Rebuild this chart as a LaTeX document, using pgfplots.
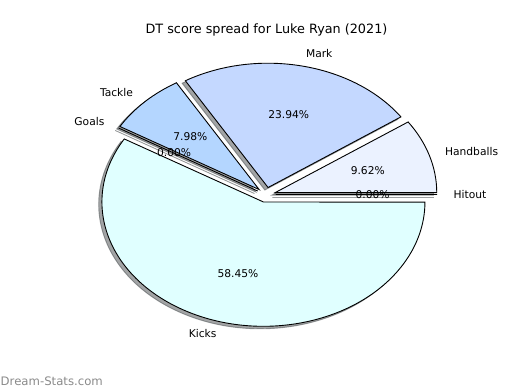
\documentclass[border=0pt]{standalone}
\usepackage{pgfplots}
\pgfplotsset{compat=1.18}
\usepackage{fontspec}
\setmainfont{DejaVu Sans}
\definecolor{cHit}{HTML}{EBF2FF}
\definecolor{cHand}{HTML}{EBF2FF}
\definecolor{cMark}{HTML}{C4D8FF}
\definecolor{cTack}{HTML}{B4D6FF}
\definecolor{cGoal}{HTML}{B4D6FF}
\definecolor{cKick}{HTML}{E0FFFF}
\definecolor{shadowc}{rgb}{0.27,0.29,0.30}
\definecolor{wm}{HTML}{8A8A8A}
% value (%) / label / colour, in counter-clockwise order from 0 degrees
\def\piedata{0.00/Hitout/cHit, 9.62/Handballs/cHand, 23.94/Mark/cMark, 7.98/Tackle/cTack, 0.00/Goals/cGoal, 58.45/Kicks/cKick}
\def\total{99.99}
\def\expl{0.06}
\begin{document}
\begin{tikzpicture}
\path (0,0) rectangle (520bp,390bp);
\begin{axis}[at={(266bp,195.2bp)}, anchor=origin, scale only axis,
  width=403.75bp, height=310.75bp,
  xmin=-1.25, xmax=1.25, ymin=-1.25, ymax=1.25,
  hide axis, clip=false]
% shadows
\xdef\cum{0}
\foreach \v/\n/\c in \piedata {
  \pgfmathsetmacro\aS{3.6/\total*100*\cum}
  \pgfmathsetmacro\aE{3.6/\total*100*(\cum+\v)}
  \pgfmathsetmacro\aM{(\aS+\aE)/2}
  \pgfmathsetmacro\ox{\expl*cos(\aM)-0.02}
  \pgfmathsetmacro\oy{\expl*sin(\aM)-0.02}
  \pgfmathsetmacro\sx{\ox+cos(\aS)}
  \pgfmathsetmacro\sy{\oy+sin(\aS)}
  \edef\tmp{\noexpand\filldraw[fill=shadowc,draw=shadowc,fill opacity=0.5,draw opacity=0.5,line width=0.9bp] (axis cs:\ox,\oy) -- (axis cs:\sx,\sy) arc[start angle=\aS,end angle=\aE,x radius=1,y radius=1] -- cycle;}
  \tmp
  \pgfmathsetmacro\newcum{\cum+\v}\xdef\cum{\newcum}
}
% wedges
\xdef\cum{0}
\foreach \v/\n/\c in \piedata {
  \pgfmathsetmacro\aS{3.6/\total*100*\cum}
  \pgfmathsetmacro\aE{3.6/\total*100*(\cum+\v)}
  \pgfmathsetmacro\aM{(\aS+\aE)/2}
  \pgfmathsetmacro\ox{\expl*cos(\aM)}
  \pgfmathsetmacro\oy{\expl*sin(\aM)}
  \pgfmathsetmacro\sx{\ox+cos(\aS)}
  \pgfmathsetmacro\sy{\oy+sin(\aS)}
  \edef\tmp{\noexpand\filldraw[fill=\c,draw=black,line width=0.9bp] (axis cs:\ox,\oy) -- (axis cs:\sx,\sy) arc[start angle=\aS,end angle=\aE,x radius=1,y radius=1] -- cycle;}
  \tmp
  \pgfmathsetmacro\newcum{\cum+\v}\xdef\cum{\newcum}
}
% labels
\xdef\cum{0}
\foreach \v/\n/\c in \piedata {
  \pgfmathsetmacro\aS{3.6/\total*100*\cum}
  \pgfmathsetmacro\aE{3.6/\total*100*(\cum+\v)}
  \pgfmathsetmacro\aM{(\aS+\aE)/2}
  \pgfmathsetmacro\lx{(\expl+1.1)*cos(\aM)}
  \pgfmathsetmacro\ly{(\expl+1.1)*sin(\aM)}
  \pgfmathsetmacro\px{(\expl+0.6)*cos(\aM)}
  \pgfmathsetmacro\py{(\expl+0.6)*sin(\aM)}
  \ifdim\lx pt>0pt \def\anc{west}\else\def\anc{east}\fi
  \edef\tmp{\noexpand\node[anchor=\anc,inner sep=0pt,text height=0.729em,text depth=0pt,font=\noexpand\fontsize{10.7bp}{13bp}\noexpand\selectfont] at (axis cs:\lx,\ly) {\n};
  \noexpand\node[anchor=center,inner sep=0pt,text height=0.729em,text depth=0pt,font=\noexpand\fontsize{10.7bp}{13bp}\noexpand\selectfont] at (axis cs:\px,\py) {\v\noexpand\%};}
  \tmp
  \pgfmathsetmacro\newcum{\cum+\v}\xdef\cum{\newcum}
}
\end{axis}
\node[anchor=base,inner sep=0pt,font=\fontsize{12.8bp}{15bp}\selectfont] at (266.5bp,356.5bp) {DT score spread for Luke Ryan (2021)};
\node[anchor=base west,inner sep=0pt,text=wm,font=\fontsize{11.7bp}{14bp}\selectfont] at (0.5bp,4.5bp) {Dream-Stats.com};
\end{tikzpicture}
\end{document}
